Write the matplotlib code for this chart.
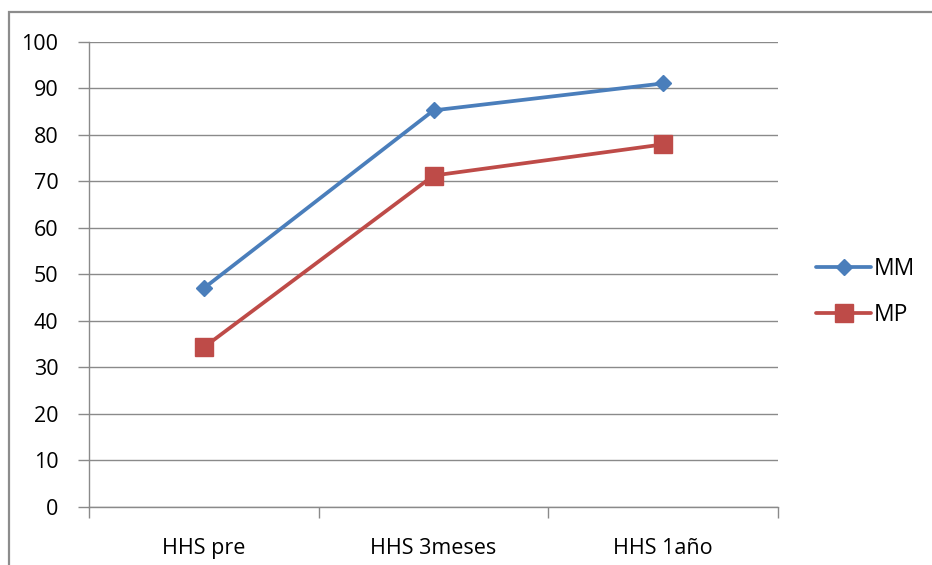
import matplotlib
matplotlib.use("Agg")
import matplotlib.pyplot as plt
from matplotlib.patches import Rectangle
from matplotlib.ticker import FixedLocator, NullFormatter

categories = ["HHS pre", "HHS 3meses", "HHS 1año"]
mm_values = [47, 85.2, 91]
mp_values = [34.3, 71.2, 77.9]
y_ticks = [0, 10, 20, 30, 40, 50, 60, 70, 80, 90, 100]

plt.rcParams["font.family"] = ["Open Sans", "DejaVu Sans"]

W, H, DPI = 932, 565, 100
fig = plt.figure(figsize=(W / DPI, H / DPI), dpi=DPI)
fig.patch.set_facecolor("white")

# chart-area frame
fig.add_artist(Rectangle((9 / W, -0.1), 2, 1 - 12 / H + 0.1, transform=fig.transFigure,
                         fill=False, edgecolor="#8c8c8c", lw=1.6))

left, right = 89 / W, 778 / W
bottom, top = 1 - 507 / H, 1 - 41.5 / H
ax = fig.add_axes([left, bottom, right - left, top - bottom])

grid_c = "#8a8a8a"
x = list(range(len(categories)))
ax.plot(x, mm_values, color="#4a7ebb", lw=2.7, marker="D", ms=8,
        label="MM", solid_capstyle="round")
ax.plot(x, mp_values, color="#be4b48", lw=2.7, marker="s", ms=13.5,
        label="MP", solid_capstyle="round")

ax.set_xlim(-0.5, len(categories) - 0.5)
ax.set_ylim(0, 100)
ax.set_yticks(y_ticks)
ax.set_yticklabels([str(v) for v in y_ticks])
ax.yaxis.grid(True, color=grid_c, lw=1.0)
ax.set_axisbelow(True)

ax.set_xticks(x)
ax.set_xticklabels(categories)
ax.xaxis.set_minor_locator(FixedLocator([i - 0.5 for i in range(len(categories) + 1)]))
ax.xaxis.set_minor_formatter(NullFormatter())
ax.tick_params(axis="x", which="major", length=0, pad=22, labelsize=15.5, colors="black")
ax.tick_params(axis="x", which="minor", length=8, width=1, color=grid_c, direction="out")
ax.tick_params(axis="y", length=8, width=1, color=grid_c, direction="out",
               labelsize=15.5, pad=14)

for s in ["top", "right"]:
    ax.spines[s].set_visible(False)
for s in ["left", "bottom"]:
    ax.spines[s].set_color(grid_c)
    ax.spines[s].set_linewidth(1.0)

ax.legend(loc="center left", bbox_to_anchor=(816 / W, 1 - 292 / H),
          bbox_transform=fig.transFigure, frameon=False, fontsize=16.5,
          handlelength=2.4, handletextpad=0.1, labelspacing=0.95,
          borderaxespad=0, borderpad=0)

fig.savefig("out.png", dpi=DPI)
